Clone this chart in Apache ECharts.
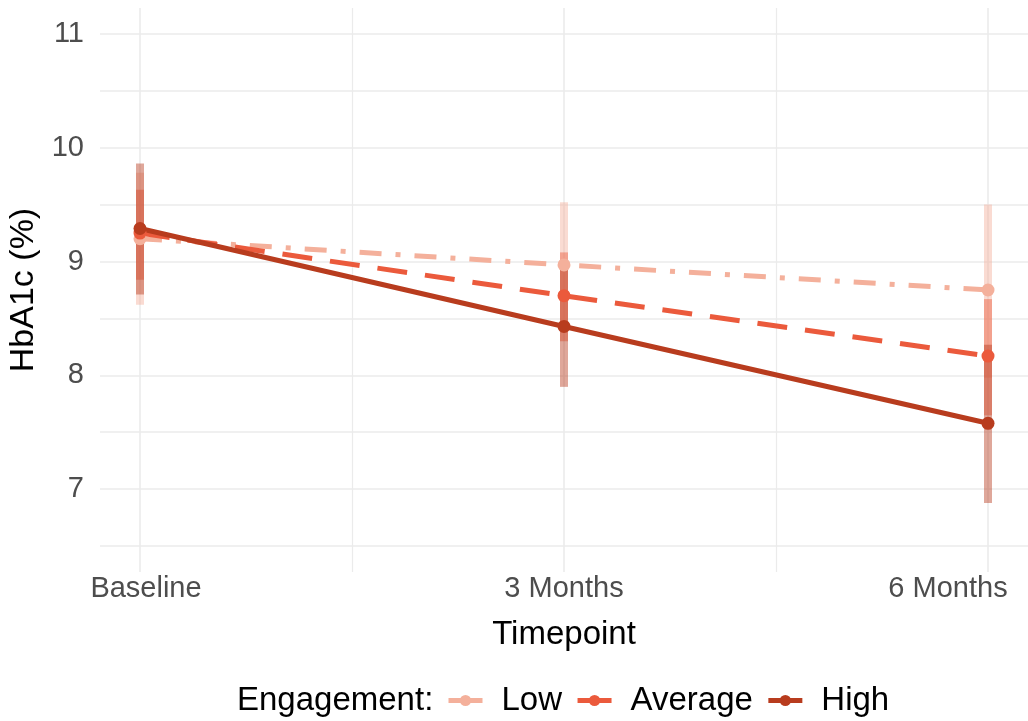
<!DOCTYPE html>
<html>
<head>
<meta charset="utf-8">
<script src="https://cdn.jsdelivr.net/npm/echarts@6/dist/echarts.min.js"></script>
<style>
  html, body { margin: 0; padding: 0; background: #fff; }
  #chart { width: 1028px; height: 721px; }
</style>
</head>
<body>
<div id="chart"></div>
<script>
// data
const categories = ['Baseline', '3 Months', '6 Months']
const groups = ['Low', 'Average', 'High']
const lowMean = [9.20, 8.97, 8.75]
const avgMean = [9.25, 8.70, 8.17]
const highMean = [9.29, 8.43, 7.58]
const lowLower = [8.62, 8.42, 7.98]
const lowUpper = [9.78, 9.52, 9.50]
const avgLower = [8.84, 8.30, 7.65]
const avgUpper = [9.63, 9.08, 8.67]
const highLower = [8.71, 7.90, 6.88]
const highUpper = [9.86, 8.96, 8.27]

const colors = ['#F4B09B', '#EB5A3C', '#B83C1E']
const lineTypes = [[22, 14, 5, 14], [30, 18], 'solid']
const font = 'Liberation Sans, Arial, Helvetica, sans-serif'

const means = [lowMean, avgMean, highMean]
const lowers = [lowLower, avgLower, highLower]
const uppers = [lowUpper, avgUpper, highUpper]

const chart = echarts.init(document.getElementById('chart'))

const errorSeries = groups.map((g, i) => ({
  type: 'custom',
  xAxisIndex: 1,
  yAxisIndex: 1,
  silent: true,
  z: 1,
  data: categories.map((c, k) => [k, lowers[i][k], uppers[i][k]]),
  encode: { x: 0, y: [1, 2] },
  renderItem: (params, api) => {
    const p1 = api.coord([api.value(0), api.value(1)])
    const p2 = api.coord([api.value(0), api.value(2)])
    return {
      type: 'line',
      shape: { x1: p1[0], y1: p1[1], x2: p2[0], y2: p2[1] },
      style: { stroke: colors[i], lineWidth: 8, opacity: 0.45 },
    }
  },
}))

const lineSeries = groups.map((g, i) => ({
  type: 'line',
  name: g,
  xAxisIndex: 1,
  yAxisIndex: 1,
  z: 3,
  data: categories.map((c, k) => [k, means[i][k]]),
  symbol: 'circle',
  symbolSize: 13,
  lineStyle: { color: colors[i], width: 5, type: lineTypes[i] },
  itemStyle: { color: colors[i] },
}))

const option = {
  animation: false,
  backgroundColor: '#fff',
  title: {
    text: 'Engagement:',
    left: 237,
    top: 684,
    padding: 0,
    textStyle: { fontFamily: font, fontSize: 33, fontWeight: 'normal', color: '#000' },
  },
  legend: {
    data: groups,
    left: 446,
    top: 684,
    padding: 0,
    itemGap: 13,
    itemWidth: 34,
    itemHeight: 14,
    lineStyle: { type: 'solid', width: 5 },
    textStyle: { fontFamily: font, fontSize: 33, color: '#000', padding: [0, 0, 0, 14] },
  },
  grid: [
    { left: 100, right: 0, top: 34, bottom: 175, outerBoundsMode: 'none' },
    { left: 140, right: 40, top: 8, bottom: 149, outerBoundsMode: 'none' },
  ],
  xAxis: [
    { gridIndex: 0, type: 'value', show: false, min: 0, max: 1 },
    {
      gridIndex: 1,
      type: 'value',
      min: 0,
      max: 2,
      interval: 1,
      name: 'Timepoint',
      nameLocation: 'middle',
      nameGap: 46,
      nameTextStyle: { fontFamily: font, fontSize: 33, color: '#000' },
      axisLine: { show: false },
      axisTick: { show: false },
      axisLabel: {
        margin: 2,
        fontFamily: font,
        fontSize: 29,
        color: '#4D4D4D',
        formatter: v => {
          if (v === 0) return '{first|' + categories[v] + '}'
          if (v === categories.length - 1) return '{last|' + categories[v] + '}'
          return categories[v] || ''
        },
        rich: {
          first: { fontFamily: font, fontSize: 29, color: '#4D4D4D', padding: [0, 0, 0, 12] },
          last: { fontFamily: font, fontSize: 29, color: '#4D4D4D', padding: [0, 80, 0, 0] },
        },
      },
      splitLine: { show: true, lineStyle: { color: '#EBEBEB', width: 1.6 } },
      minorTick: { show: false, splitNumber: 2 },
      minorSplitLine: { show: true, lineStyle: { color: '#EBEBEB', width: 1.2 } },
    },
  ],
  yAxis: [
    {
      gridIndex: 0,
      type: 'value',
      min: 6.5,
      max: 11,
      interval: 0.5,
      name: 'HbA1c (%)',
      nameLocation: 'middle',
      nameGap: 49,
      nameTextStyle: { fontFamily: font, fontSize: 34, color: '#000' },
      axisLine: { show: false },
      axisTick: { show: false },
      axisLabel: {
        margin: 16,
        fontFamily: font,
        fontSize: 29,
        color: '#4D4D4D',
        formatter: v => (Number.isInteger(v) ? String(v) : ''),
      },
      splitLine: { show: true, lineStyle: { color: '#EBEBEB', width: 1.6 } },
    },
    { gridIndex: 1, type: 'value', show: false, min: 6.275, max: 11.225 },
  ],
  series: [...errorSeries, ...lineSeries],
}

chart.setOption(option)
</script>
</body>
</html>
